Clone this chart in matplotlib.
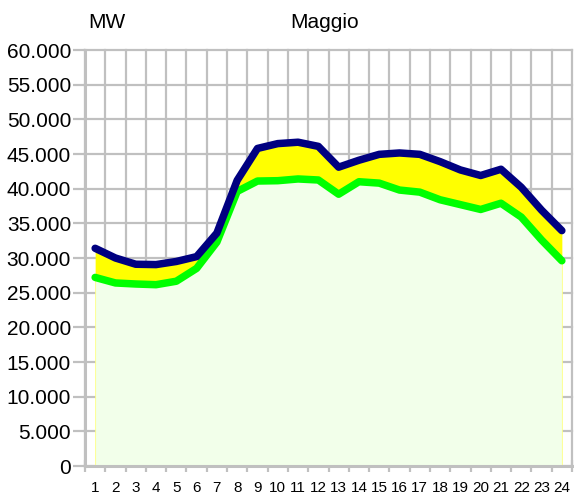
import matplotlib
matplotlib.use("Agg")
import matplotlib.pyplot as plt
from matplotlib.ticker import FuncFormatter
import numpy as np

plt.rcParams['font.family'] = ['Liberation Sans', 'DejaVu Sans']

ore = list(range(1, 25))
# MW, curva superiore (blu) e inferiore (verde)
carico_max = [31400, 30000, 29100, 29050, 29500, 30200, 33600, 41200,
              45800, 46500, 46700, 46100, 43100, 44100, 44950, 45150,
              44950, 43900, 42700, 41900, 42800, 40200, 36900, 33950]
carico_min = [27200, 26400, 26250, 26150, 26650, 28500, 32300, 39600,
              41100, 41150, 41400, 41250, 39200, 41000, 40800, 39800,
              39500, 38400, 37700, 37000, 37900, 35900, 32600, 29600]
yticks = list(range(0, 60001, 5000))

fig = plt.figure(figsize=(5.74, 5.01), dpi=100)
ax = fig.add_axes([85/574, 35/501, 487/574, 416/501])

ax.fill_between(ore, 0, carico_min, color='#F2FFEA', edgecolor='#FFFF80', lw=0.6, zorder=2)
ax.fill_between(ore, carico_min, carico_max, color='#FFFF00', lw=0, zorder=2)
ax.plot(ore, carico_min, color='#00FF00', lw=5.4, solid_capstyle='round', solid_joinstyle='round', zorder=3)
ax.plot(ore, carico_max, color='#000080', lw=5.4, solid_capstyle='round', solid_joinstyle='round', zorder=4)

ax.set_xlim(0.5, 24.5)
ax.set_ylim(0, 60000)

edges = np.arange(0.5, 25, 1)
ax.set_xticks(edges)
ax.set_xticklabels([])
ax.set_xticks(ore, minor=True)
ax.set_xticklabels([str(h) for h in ore], minor=True)
ax.set_yticks(yticks)
ax.yaxis.set_major_formatter(FuncFormatter(lambda v, p: f"{int(v):,}".replace(",", ".")))

ax.grid(True, color='#C0C0C0', lw=1.6, zorder=1)
ax.set_axisbelow(True)
for g in ax.get_xgridlines() + ax.get_ygridlines():
    g.set_clip_on(False)
for s in ax.spines.values():
    s.set_visible(False)
ax.spines['left'].set_visible(True)
ax.spines['bottom'].set_visible(True)
ax.spines['left'].set_color('#C0C0C0')
ax.spines['bottom'].set_color('#C0C0C0')
ax.spines['left'].set_linewidth(2.2)
ax.spines['bottom'].set_linewidth(2.2)
ax.spines['left'].set_zorder(5)
ax.spines['bottom'].set_zorder(5)

ax.tick_params(axis='x', which='major', direction='inout', length=9, width=1.6, color='#C0C0C0')
ax.tick_params(axis='x', which='minor', length=0, pad=11, labelsize=11)
ax.tick_params(axis='y', direction='out', length=9, width=1.6, color='#C0C0C0', pad=1, labelsize=15)
for t in ax.xaxis.get_major_ticks():
    t.tick1line.set_zorder(6)

fig.text(88/574, 1 - 28/501, "MW", fontsize=15, va='baseline', ha='left')
fig.text(290/574, 1 - 28/501, "Maggio", fontsize=15, va='baseline', ha='left')

fig.savefig("out.png", dpi=100)
